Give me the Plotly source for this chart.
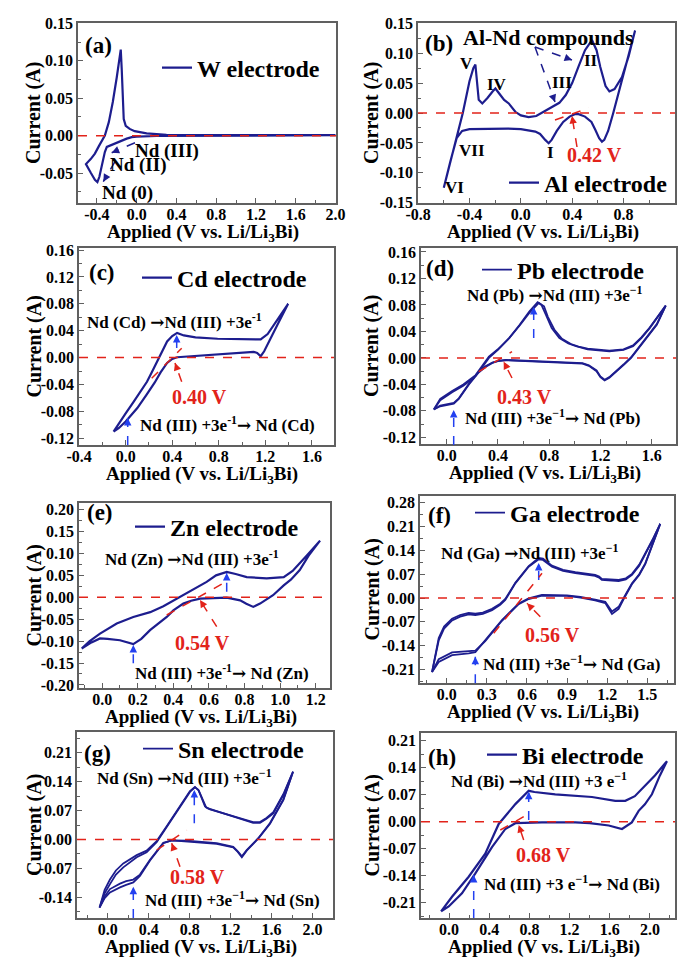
import plotly.graph_objects as go

# ---------------- data (V vs. Li/Li3Bi, current in A) ----------------
# (a) W electrode
V_a = [2.0, 1.5, 1.0, 0.6, 0.4, 0.2, 0.0, -0.05, -0.1, -0.15, -0.2, -0.26, -0.30, -0.32, -0.35, -0.375, -0.395, -0.42, -0.46, -0.51,
       -0.46, -0.42, -0.38, -0.35, -0.32, -0.28, -0.24, -0.20, -0.175, -0.16, -0.15, -0.14, -0.13, -0.11, -0.07, -0.02, 0.03, 0.1, 0.2, 0.3, 0.5, 1.0, 1.5, 2.0]
I_a = [0.0005, 0.0005, 0.0004, 0.0002, 0.0, -0.0005, -0.0012, -0.002, -0.004, -0.007, -0.010, -0.013, -0.015, -0.022, -0.040, -0.055, -0.062, -0.059, -0.050, -0.038,
       -0.031, -0.024, -0.014, -0.006, 0.0, 0.018, 0.045, 0.078, 0.100, 0.115, 0.088, 0.045, 0.022, 0.013, 0.009, 0.006, 0.0045, 0.003, 0.002, 0.0012, 0.0008, 0.0006, 0.0006, 0.0006]

# (b) Al electrode
V_b = [-0.60, -0.452, -0.40, -0.37, -0.354, -0.34, -0.328, -0.30, -0.26, -0.22, -0.198, -0.17, -0.13, -0.094, -0.043, 0.0, 0.06, 0.12, 0.18, 0.243, 0.30, 0.35, 0.40, 0.45, 0.50, 0.554, 0.59, 0.619, 0.66, 0.69, 0.73, 0.788, 0.84, 0.89,
       0.85, 0.80, 0.76, 0.72, 0.68, 0.65, 0.632, 0.61, 0.58, 0.55, 0.50, 0.45, 0.42, 0.38, 0.33, 0.28, 0.24, 0.217, 0.19, 0.15, 0.113, 0.0, -0.1, -0.2, -0.3, -0.4, -0.457, -0.50, -0.55, -0.60]
I_b = [-0.125, 0.0, 0.053, 0.075, 0.081, 0.055, 0.022, 0.016, 0.025, 0.036, 0.041, 0.033, 0.022, 0.016, 0.002, -0.004, -0.007, -0.005, 0.002, 0.0106, 0.017, 0.03, 0.05, 0.078, 0.105, 0.122, 0.105, 0.077, 0.045, 0.036, 0.040, 0.060, 0.095, 0.138,
       0.105, 0.065, 0.032, 0.0, -0.03, -0.045, -0.048, -0.042, -0.028, -0.015, -0.006, -0.002, -0.002, -0.006, -0.015, -0.030, -0.045, -0.0506, -0.045, -0.035, -0.031, -0.027, -0.026, -0.026, -0.026, -0.027, -0.030, -0.042, -0.082, -0.125]

# (c) Cd electrode
V_c = [-0.104, -0.06, 0.0, 0.068, 0.13, 0.183, 0.23, 0.27, 0.356, 0.40, 0.442, 0.50, 0.60, 0.79, 1.0, 1.16, 1.22, 1.30, 1.396,
       1.304, 1.19, 1.16, 1.13, 1.10, 0.93, 0.66, 0.442, 0.40, 0.356, 0.30, 0.25, 0.18, 0.10, 0.0, -0.06, -0.104]
I_c = [-0.110, -0.098, -0.083, -0.066, -0.050, -0.036, -0.020, -0.0055, 0.024, 0.032, 0.0367, 0.033, 0.030, 0.028, 0.027, 0.027, 0.035, 0.055, 0.080,
       0.049, 0.0094, 0.002, 0.007, 0.0085, 0.0065, 0.0035, 0.0005, -0.002, -0.008, -0.022, -0.037, -0.055, -0.075, -0.095, -0.105, -0.110]

# (d) Pb electrode, cycle 1 and cycle 2
V_d = [-0.10, -0.05, 0.043, 0.13, 0.226, 0.28, 0.33, 0.40, 0.488, 0.57, 0.645, 0.71, 0.74, 0.775, 0.82, 0.88, 0.95, 1.01, 1.10, 1.27, 1.38, 1.455, 1.52, 1.585, 1.65, 1.71,
       1.64, 1.56, 1.48, 1.44, 1.38, 1.324, 1.27, 1.233, 1.20, 1.17, 1.11, 1.06, 0.90, 0.75, 0.60, 0.462, 0.40, 0.357, 0.30, 0.25, 0.174, 0.095, 0.056, 0.0, -0.05, -0.10]
I_d = [-0.078, -0.064, -0.052, -0.042, -0.028, -0.014, 0.0, 0.012, 0.030, 0.050, 0.070, 0.084, 0.080, 0.065, 0.045, 0.030, 0.022, 0.0176, 0.013, 0.010, 0.012, 0.0176, 0.030, 0.045, 0.062, 0.079,
       0.050, 0.030, 0.010, 0.0, -0.011, -0.020, -0.030, -0.034, -0.029, -0.020, -0.012, -0.0085, -0.007, -0.0065, -0.005, -0.0035, -0.005, -0.0075, -0.014, -0.022, -0.040, -0.062, -0.069, -0.071, -0.073, -0.078]
V_d2 = [-0.10, -0.05, 0.043, 0.13, 0.226, 0.28, 0.33, 0.40, 0.488, 0.57, 0.645, 0.72, 0.76, 0.79, 0.84, 0.90, 0.97, 1.03, 1.10, 1.27, 1.38, 1.455, 1.52, 1.585, 1.65, 1.71,
        1.64, 1.56, 1.48, 1.44, 1.38, 1.324, 1.27, 1.233, 1.20, 1.17, 1.11, 1.06, 0.90, 0.75, 0.60, 0.462, 0.40, 0.357, 0.30, 0.25, 0.174, 0.095, 0.056, 0.0, -0.05, -0.10]
I_d2 = [-0.078, -0.062, -0.050, -0.040, -0.026, -0.012, 0.002, 0.013, 0.030, 0.049, 0.068, 0.083, 0.078, 0.062, 0.043, 0.029, 0.021, 0.017, 0.014, 0.011, 0.013, 0.019, 0.031, 0.046, 0.063, 0.079,
        0.051, 0.031, 0.011, 0.001, -0.010, -0.019, -0.029, -0.033, -0.028, -0.019, -0.011, -0.008, -0.0065, -0.006, -0.0045, -0.003, -0.0045, -0.007, -0.013, -0.021, -0.039, -0.061, -0.068, -0.070, -0.072, -0.078]

# (e) Zn electrode
V_e = [-0.115, -0.07, -0.012, 0.082, 0.175, 0.27, 0.344, 0.419, 0.475, 0.53, 0.587, 0.64, 0.70, 0.75, 0.812, 0.924, 1.02, 1.07, 1.11, 1.16, 1.224,
       1.16, 1.11, 1.06, 1.02, 0.96, 0.887, 0.849, 0.81, 0.775, 0.70, 0.62, 0.55, 0.50, 0.456, 0.40, 0.363, 0.269, 0.22, 0.175, 0.10, 0.03, -0.012, -0.06, -0.115]
I_e = [-0.117, -0.100, -0.083, -0.060, -0.045, -0.034, -0.0205, -0.003, 0.0085, 0.022, 0.035, 0.050, 0.058, 0.053, 0.046, 0.043, 0.046, 0.060, 0.077, 0.100, 0.129,
       0.095, 0.062, 0.040, 0.027, 0.0046, -0.0145, -0.022, -0.015, -0.007, -0.001, -0.002, -0.003, -0.008, -0.0145, -0.030, -0.045, -0.075, -0.095, -0.107, -0.098, -0.095, -0.094, -0.103, -0.117]

# (f) Ga electrode, cycle 1 and cycle 2
V_f = [-0.11, -0.09, -0.06, -0.02, 0.04, 0.10, 0.164, 0.214, 0.27, 0.339, 0.40, 0.438, 0.513, 0.613, 0.688, 0.72, 0.787, 0.87, 0.962, 1.11, 1.14, 1.16, 1.286, 1.34, 1.386, 1.44, 1.485, 1.54, 1.597,
       1.54, 1.485, 1.44, 1.386, 1.336, 1.286, 1.236, 1.20, 1.186, 1.11, 1.0, 0.90, 0.712, 0.613, 0.538, 0.413, 0.288, 0.214, 0.164, 0.04, -0.06, -0.11]
I_f = [-0.218, -0.180, -0.125, -0.090, -0.066, -0.055, -0.048, -0.050, -0.047, -0.036, -0.020, -0.006, 0.043, 0.092, 0.114, 0.112, 0.092, 0.080, 0.073, 0.065, 0.060, 0.053, 0.050, 0.055, 0.068, 0.095, 0.127, 0.170, 0.218,
       0.160, 0.102, 0.070, 0.043, 0.009, -0.026, -0.040, -0.020, -0.011, -0.005, 0.003, 0.008, 0.009, -0.001, -0.016, -0.065, -0.124, -0.159, -0.163, -0.168, -0.188, -0.218]
V_f2 = [-0.11, -0.09, -0.06, -0.02, 0.04, 0.10, 0.164, 0.214, 0.27, 0.339, 0.40, 0.438, 0.513, 0.613, 0.688, 0.72, 0.787, 0.87, 0.962, 1.11, 1.14, 1.16, 1.286, 1.34, 1.386, 1.44, 1.485, 1.54, 1.597,
        1.54, 1.485, 1.44, 1.386, 1.336, 1.286, 1.236, 1.20, 1.186, 1.11, 1.0, 0.90, 0.712, 0.613, 0.538, 0.413, 0.288, 0.214, 0.164, 0.04, -0.06, -0.11]
I_f2 = [-0.218, -0.175, -0.118, -0.084, -0.061, -0.050, -0.044, -0.046, -0.043, -0.032, -0.017, -0.003, 0.045, 0.094, 0.118, 0.116, 0.095, 0.083, 0.076, 0.068, 0.063, 0.056, 0.053, 0.058, 0.071, 0.098, 0.130, 0.172, 0.218,
        0.158, 0.100, 0.068, 0.041, 0.006, -0.032, -0.047, -0.025, -0.015, -0.007, 0.001, 0.006, 0.007, -0.003, -0.018, -0.067, -0.127, -0.155, -0.157, -0.160, -0.180, -0.218]

# (g) Sn electrode, cycle 1 and cycle 2
V_g = [-0.08, -0.03, 0.022, 0.08, 0.152, 0.22, 0.283, 0.38, 0.478, 0.576, 0.706, 0.803, 0.852, 0.885, 0.918, 0.95, 0.98, 1.03, 1.227, 1.42, 1.487, 1.55, 1.617, 1.72, 1.81,
       1.715, 1.585, 1.47, 1.357, 1.31, 1.27, 1.226, 1.064, 0.77, 0.625, 0.543, 0.48, 0.413, 0.315, 0.25, 0.18, 0.12, 0.022, -0.03, -0.08]
I_g = [-0.165, -0.130, -0.108, -0.085, -0.0675, -0.055, -0.043, -0.031, -0.0066, 0.030, 0.079, 0.115, 0.126, 0.120, 0.100, 0.080, 0.075, 0.071, 0.054, 0.040, 0.040, 0.050, 0.063, 0.110, 0.164,
       0.095, 0.038, 0.002, -0.027, -0.043, -0.030, -0.019, -0.0105, -0.004, -0.0024, -0.009, -0.030, -0.051, -0.088, -0.104, -0.110, -0.116, -0.128, -0.142, -0.165]
V_g2 = [-0.08, -0.03, 0.022, 0.08, 0.152, 0.22, 0.283, 0.38, 0.478, 0.576, 0.706, 0.803, 0.852, 0.89, 0.93, 0.96, 1.0, 1.227, 1.42, 1.487, 1.55, 1.617, 1.72, 1.81,
        1.715, 1.585, 1.47, 1.357, 1.31, 1.27, 1.226, 1.064, 0.77, 0.625, 0.543, 0.48, 0.413, 0.315, 0.25, 0.18, 0.12, 0.022, -0.03, -0.08]
I_g2 = [-0.165, -0.122, -0.097, -0.075, -0.058, -0.047, -0.038, -0.027, -0.004, 0.032, 0.081, 0.117, 0.127, 0.118, 0.095, 0.078, 0.073, 0.056, 0.042, 0.042, 0.052, 0.066, 0.112, 0.164,
        0.097, 0.040, 0.003, -0.026, -0.041, -0.029, -0.018, -0.009, -0.003, -0.002, -0.008, -0.028, -0.049, -0.085, -0.097, -0.101, -0.107, -0.120, -0.138, -0.165]

# (h) Bi electrode
V_h = [-0.08, 0.029, 0.195, 0.36, 0.494, 0.58, 0.66, 0.793, 0.85, 1.057, 1.423, 1.655, 1.755, 1.85, 1.92, 2.05, 2.17,
       2.10, 2.02, 1.95, 1.888, 1.82, 1.722, 1.59, 1.40, 1.257, 0.925, 0.66, 0.56, 0.427, 0.26, 0.128, -0.004, -0.08]
I_h = [-0.233, -0.195, -0.143, -0.083, -0.006, 0.022, 0.0455, 0.080, 0.077, 0.071, 0.064, 0.054, 0.054, 0.066, 0.084, 0.120, 0.157,
       0.120, 0.071, 0.045, 0.028, -0.002, -0.019, -0.010, -0.004, -0.002, -0.002, -0.004, -0.019, -0.066, -0.135, -0.186, -0.220, -0.233]

# tick labels
XL_a = ["-0.4", "0.0", "0.4", "0.8", "1.2", "1.6", "2.0"]
YL_a = ["-0.05", "0.00", "0.05", "0.10", "0.15"]
XL_b = ["-0.8", "-0.4", "0.0", "0.4", "0.8", "1.2"]
YL_b = ["-0.15", "-0.10", "-0.05", "0.00", "0.05", "0.10", "0.15"]
XL_c = ["-0.4", "0.0", "0.4", "0.8", "1.2", "1.6"]
YL_c = ["-0.12", "-0.08", "-0.04", "0.00", "0.04", "0.08", "0.12", "0.16"]
XL_d = ["0.0", "0.4", "0.8", "1.2", "1.6"]
YL_d = ["-0.12", "-0.08", "-0.04", "0.00", "0.04", "0.08", "0.12", "0.16"]
XL_e = ["0.0", "0.2", "0.4", "0.6", "0.8", "1.0", "1.2"]
YL_e = ["-0.20", "-0.15", "-0.10", "-0.05", "0.00", "0.05", "0.10", "0.15", "0.20"]
XL_f = ["0.0", "0.3", "0.6", "0.9", "1.2", "1.5"]
YL_f = ["-0.21", "-0.14", "-0.07", "0.00", "0.07", "0.14", "0.21", "0.28"]
XL_g = ["0.0", "0.4", "0.8", "1.2", "1.6", "2.0"]
YL_g = ["-0.14", "-0.07", "0.00", "0.07", "0.14", "0.21"]
XL_h = ["0.0", "0.4", "0.8", "1.2", "1.6", "2.0"]
YL_h = ["-0.21", "-0.14", "-0.07", "0.00", "0.07", "0.14", "0.21"]

NAMES = ["W electrode", "Al electrode", "Cd electrode", "Pb electrode",
         "Zn electrode", "Ga electrode", "Sn electrode", "Bi electrode"]

# ---------------- layout helpers ----------------
W, H = 684, 960
FONT = "Liberation Serif"
NAVY = "#1d1d8e"
BLUE = "#2340f0"
RED = "#e2231a"
FRAME = "#606060"
ARROW = '<span style="font-family:DejaVu Serif">→</span>'


def px(x):
    return x / W


def py(y):
    return 1 - y / H


panels = [
    dict(V=V_a, I=I_a, extra=[], box=(78, 23, 336, 203), xr=[-0.59, 2.005], yr=[-0.09, 0.1505], xl=XL_a, yl=YL_a, xm=0.2, ym=0.025, leg=(157, 68)),
    dict(V=V_b, I=I_b, extra=[], box=(418, 23, 675, 203), xr=[-0.801, 1.201], yr=[-0.1505, 0.1505], xl=XL_b, yl=YL_b, xm=0.2, ym=0.025, leg=(504, 183)),
    dict(V=V_c, I=I_c, extra=[], box=(79, 248, 334, 445), xr=[-0.401, 1.79], yr=[-0.13, 0.163], xl=XL_c, yl=YL_c, xm=0.2, ym=0.02, leg=(137, 278)),
    dict(V=V_d, I=I_d, extra=[(V_d2, I_d2)], box=(421, 248, 676, 444), xr=[-0.2, 1.79], yr=[-0.13, 0.166], xl=XL_d, yl=YL_d, xm=0.2, ym=0.02, leg=(477, 270)),
    dict(V=V_e, I=I_e, extra=[], box=(79, 503, 330, 688), xr=[-0.13, 1.28], yr=[-0.207, 0.215], xl=XL_e, yl=YL_e, xm=0.1, ym=0.025, leg=(130, 527)),
    dict(V=V_f, I=I_f, extra=[(V_f2, I_f2)], box=(420, 496, 674, 683), xr=[-0.2, 1.7], yr=[-0.25, 0.30], xl=XL_f, yl=YL_f, xm=0.15, ym=0.035, leg=(470, 513)),
    dict(V=V_g, I=I_g, extra=[(V_g2, I_g2)], box=(77, 732, 333, 918), xr=[-0.3, 2.2], yr=[-0.19, 0.26], xl=XL_g, yl=YL_g, xm=0.2, ym=0.035, leg=(138, 749)),
    dict(V=V_h, I=I_h, extra=[], box=(421, 733, 675, 918), xr=[-0.28, 2.25], yr=[-0.25, 0.23], xl=XL_h, yl=YL_h, xm=0.2, ym=0.035, leg=(482, 755)),
]

fig = go.Figure()
layout = dict(
    width=W, height=H, margin=dict(l=0, r=0, t=0, b=0, pad=0, autoexpand=False),
    paper_bgcolor="white", plot_bgcolor="white",
    font=dict(family=FONT, size=16, color="black", weight="bold"),
    showlegend=True,
)
shapes = []
annotations = []


def text(s, x, y, size=17, color="black", angle=0):
    annotations.append(dict(text=s, x=px(x), y=py(y), xref="paper", yref="paper", showarrow=False,
                            xanchor="center", yanchor="middle", textangle=angle,
                            font=dict(family=FONT, size=size, color=color, weight="bold")))


for k, p in enumerate(panels):
    n = "" if k == 0 else str(k + 1)
    x0, y0, x1, y1 = p["box"]
    legname = "legend" if k == 0 else f"legend{k + 1}"
    lw = 1.8 if p["extra"] else 2.2
    fig.add_trace(go.Scatter(
        x=p["V"], y=p["I"], mode="lines", name=NAMES[k],
        line=dict(color=NAVY, width=lw), xaxis=f"x{n}", yaxis=f"y{n}",
        legend=legname, hoverinfo="skip"))
    for (ve, ie) in p["extra"]:
        fig.add_trace(go.Scatter(
            x=ve, y=ie, mode="lines", name=NAMES[k], showlegend=False,
            line=dict(color=NAVY, width=lw), xaxis=f"x{n}", yaxis=f"y{n}",
            legend=legname, hoverinfo="skip"))
    axis_common = dict(showline=True, linecolor=FRAME, linewidth=1.5, mirror=True,
                       ticks="inside", ticklen=5, tickcolor=FRAME, tickwidth=1.2,
                       showgrid=False, zeroline=False, automargin=False,
                       tickfont=dict(family=FONT, size=16, color="black", weight="bold"))
    layout[f"xaxis{n}"] = dict(
        domain=[px(x0), px(x1)], anchor=f"y{n}", range=p["xr"],
        tickmode="array", tickvals=[float(s) for s in p["xl"]], ticktext=p["xl"],
        ticklabelstandoff=-4,
        minor=dict(ticks="inside", ticklen=3, tickcolor=FRAME, tickmode="linear", tick0=0, dtick=p["xm"]),
        **axis_common)
    layout[f"yaxis{n}"] = dict(
        domain=[py(y1), py(y0)], anchor=f"x{n}", range=p["yr"],
        tickmode="array", tickvals=[float(s) for s in p["yl"]], ticktext=p["yl"],
        minor=dict(ticks="inside", ticklen=3, tickcolor=FRAME, tickmode="linear", tick0=0, dtick=p["ym"]),
        **axis_common)
    lx, ly = p["leg"]
    layout[legname] = dict(x=px(lx), y=py(ly), xanchor="left", yanchor="middle",
                           bgcolor="rgba(0,0,0,0)", borderwidth=0, itemwidth=30,
                           font=dict(family=FONT, size=24, color="black", weight="bold"))
    # red dashed zero line
    shapes.append(dict(type="line", xref=f"x{n} domain", yref=f"y{n}", x0=0, x1=1, y0=0, y1=0,
                       line=dict(color=RED, width=1.5, dash="dash")))
    # axis titles
    left_col = k % 2 == 0
    text("Current (A)", 34 if left_col else 372, (y0 + y1) / 2, 20, angle=-90)
    text("Applied (V vs. Li/Li<sub>3</sub>Bi)", (x0 + x1) / 2 - 4, y1 + 30, 19)


def darrow(xa, ya, xb, yb, color, dash="dash"):
    shapes.append(dict(type="line", xref="paper", yref="paper", x0=px(xa), y0=py(ya), x1=px(xb), y1=py(yb),
                       line=dict(color=color, width=1.5, dash=dash)))
    dx, dy = xa - xb, ya - yb
    L = (dx * dx + dy * dy) ** 0.5
    annotations.append(dict(text="", x=px(xb), y=py(yb), xref="paper", yref="paper", showarrow=True,
                            ax=dx / L * 7, ay=dy / L * 7, arrowhead=2, arrowsize=1, arrowwidth=1.5,
                            arrowcolor=color, standoff=0))


def dline(xa, ya, xb, yb, color):
    shapes.append(dict(type="line", xref="paper", yref="paper", x0=px(xa), y0=py(ya), x1=px(xb), y1=py(yb),
                       line=dict(color=color, width=1.5, dash="dash")))


# (a)
text("(a)", 98, 45, 23)
text("Nd (III)", 167, 151, 19)
text("Nd (II)", 138, 165, 19)
text("Nd (0)", 127, 193, 19)
darrow(135, 142.7, 111.7, 152.7, NAVY)
darrow(115, 161.7, 103.3, 181.7, NAVY)

# (b)
text("(b)", 439, 43, 23)
text("Al-Nd compounds", 548, 38, 22)
for s, x, y in [("V", 466, 63), ("IV", 497, 85), ("III", 562, 82), ("II", 591, 60),
                ("I", 550, 152), ("VII", 472, 150), ("VI", 454, 188)]:
    text(s, x, y, 17)
darrow(535, 47, 572, 60, NAVY)
darrow(535, 47, 555, 102, NAVY)
dline(555, 120, 589, 108, RED)
darrow(577, 147, 572, 116, RED)
text("0.42 V", 594, 155, 20, RED)

# (c)
text(f"Nd (Cd) {ARROW}Nd (III) +3e<sup>-1</sup>", 174, 321, 17)
text("(c)", 102, 272, 23)
darrow(176.7, 348, 176.7, 335, BLUE)
dline(151.7, 378.3, 181.7, 348.3, RED)
darrow(181.7, 381.7, 175, 363, RED)
text("0.40 V", 199, 397, 20, RED)
text(f"Nd (III) +3e<sup>-1</sup>{ARROW} Nd (Cd)", 227, 424, 17)
darrow(127.7, 445, 127.7, 418, BLUE)

# (d)
text("(d)", 440, 268, 23)
text(f"Nd (Pb) {ARROW}Nd (III) +3e<sup>−1</sup>", 555, 294, 17)
darrow(533.7, 338, 533.7, 307, BLUE)
dline(478.7, 371.7, 512, 351.7, RED)
darrow(512, 378, 503.7, 361.7, RED)
text("0.43 V", 524, 397, 20, RED)
text(f"Nd (III) +3e<sup>−1</sup>{ARROW} Nd (Pb)", 553, 417, 17)
darrow(453.7, 445, 453.7, 410, BLUE)

# (e)
text("(e)", 100, 512, 23)
text(f"Nd (Zn) {ARROW}Nd (III) +3e<sup>-1</sup>", 192, 558, 17)
darrow(226.7, 591.7, 226.7, 573, BLUE)
dline(166.7, 615, 223.3, 583.3, RED)
darrow(216.7, 626.7, 200, 600, RED)
text("0.54 V", 202, 643, 20, RED)
text(f"Nd (III) +3e<sup>-1</sup>{ARROW} Nd (Zn)", 222, 672, 17)
darrow(133.3, 663.3, 133.3, 645, BLUE)

# (f)
text("(f)", 439, 515, 23)
text(f"Nd (Ga) {ARROW}Nd (III) +3e<sup>−1</sup>", 529, 552, 17)
darrow(538.7, 580, 538.7, 563, BLUE)
dline(493.7, 633.3, 542, 573.3, RED)
darrow(540.3, 616.7, 527, 603.3, RED)
text("0.56 V", 552, 635, 20, RED)
text(f"Nd (III) +3e<sup>−1</sup>{ARROW} Nd (Ga)", 571, 663, 17)
darrow(475.3, 683.3, 475.3, 656.7, BLUE)

# (g)
text("(g)", 97, 753, 23)
text(f"Nd (Sn) {ARROW}Nd (III) +3e<sup>−1</sup>", 184, 777, 17)
darrow(194.3, 823.3, 194.3, 790, BLUE)
dline(156.7, 850, 186.7, 830, RED)
darrow(180, 866.7, 171.7, 843.3, RED)
text("0.58 V", 197, 877, 20, RED)
text(f"Nd (III) +3e<sup>−1</sup>{ARROW} Nd (Sn)", 232, 899, 17)
darrow(133.3, 918, 133.3, 886.7, BLUE)

# (h)
text("(h)", 442, 757, 23)
text(f"Nd (Bi) {ARROW}Nd (III) +3 e<sup>−1</sup>", 539, 780, 17)
darrow(528.7, 820, 528.7, 791.7, BLUE)
dline(500.3, 830, 523.7, 816.7, RED)
darrow(523.7, 840, 518.7, 825, RED)
text("0.68 V", 543, 855, 20, RED)
text(f"Nd (III) +3 e<sup>−1</sup>{ARROW} Nd (Bi)", 572, 883, 17)
darrow(473.7, 918, 473.7, 875, BLUE)

layout["shapes"] = shapes
layout["annotations"] = annotations
fig.update_layout(**layout)
fig.write_html("out.html")
